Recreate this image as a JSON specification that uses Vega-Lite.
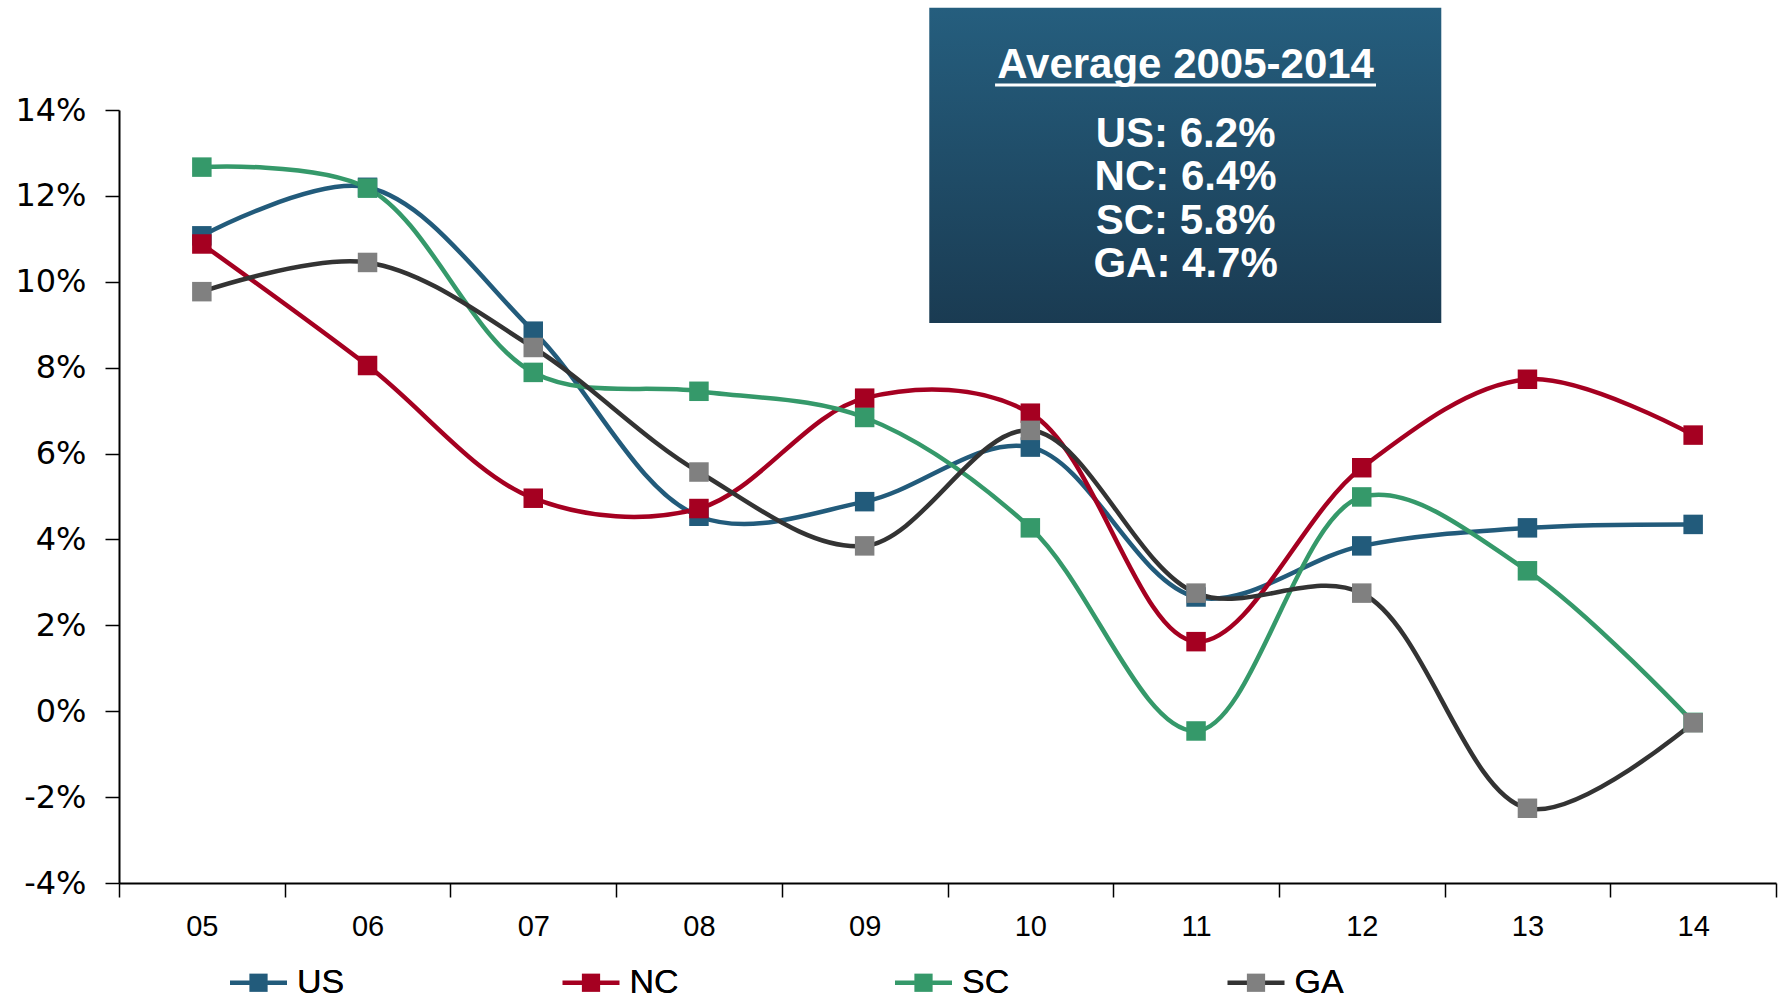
{
  "$schema": "https://vega.github.io/schema/vega-lite/v6.json",
  "width": 1657,
  "height": 773,
  "autosize": {"type": "none"},
  "padding": {"left": 119, "top": 110, "right": 7, "bottom": 116},
  "background": "white",
  "config": {"view": {"stroke": null}, "font": "Liberation Sans"},
  "data": {
    "values": [
      {"year": "05", "series": "US", "value": 11.07},
      {"year": "06", "series": "US", "value": 12.2},
      {"year": "07", "series": "US", "value": 8.85},
      {"year": "08", "series": "US", "value": 4.54},
      {"year": "09", "series": "US", "value": 4.88},
      {"year": "10", "series": "US", "value": 6.15},
      {"year": "11", "series": "US", "value": 2.66},
      {"year": "12", "series": "US", "value": 3.85},
      {"year": "13", "series": "US", "value": 4.27},
      {"year": "14", "series": "US", "value": 4.35},
      {"year": "05", "series": "NC", "value": 10.88},
      {"year": "06", "series": "NC", "value": 8.05},
      {"year": "07", "series": "NC", "value": 4.96},
      {"year": "08", "series": "NC", "value": 4.72},
      {"year": "09", "series": "NC", "value": 7.29},
      {"year": "10", "series": "NC", "value": 6.94},
      {"year": "11", "series": "NC", "value": 1.62},
      {"year": "12", "series": "NC", "value": 5.67},
      {"year": "13", "series": "NC", "value": 7.73},
      {"year": "14", "series": "NC", "value": 6.43},
      {"year": "05", "series": "SC", "value": 12.67},
      {"year": "06", "series": "SC", "value": 12.18},
      {"year": "07", "series": "SC", "value": 7.89},
      {"year": "08", "series": "SC", "value": 7.45},
      {"year": "09", "series": "SC", "value": 6.84},
      {"year": "10", "series": "SC", "value": 4.27},
      {"year": "11", "series": "SC", "value": -0.46},
      {"year": "12", "series": "SC", "value": 4.99},
      {"year": "13", "series": "SC", "value": 3.27},
      {"year": "14", "series": "SC", "value": -0.26},
      {"year": "05", "series": "GA", "value": 9.77},
      {"year": "06", "series": "GA", "value": 10.45},
      {"year": "07", "series": "GA", "value": 8.47},
      {"year": "08", "series": "GA", "value": 5.57},
      {"year": "09", "series": "GA", "value": 3.85},
      {"year": "10", "series": "GA", "value": 6.54},
      {"year": "11", "series": "GA", "value": 2.75},
      {"year": "12", "series": "GA", "value": 2.75},
      {"year": "13", "series": "GA", "value": -2.26},
      {"year": "14", "series": "GA", "value": -0.27}
    ]
  },
  "resolve": {"scale": {"x": "independent"}},
  "layer": [
    {
      "layer": [
        {
          "mark": {"type": "line", "interpolate": "catmull-rom", "strokeWidth": 4.5},
          "encoding": {
            "x": {
              "field": "year", "type": "ordinal",
              "scale": {"type": "band", "paddingInner": 0, "paddingOuter": 0},
              "bandPosition": 0.5,
              "axis": {
                "title": null, "tickBand": "extent", "labelAngle": 0, "grid": false,
                "domainColor": "black", "domainWidth": 2, "tickColor": "black", "tickWidth": 1.5,
                "tickSize": 14, "labelFontSize": 29, "labelPadding": 15, "labelColor": "black",
                "labelFont": "Liberation Sans"
              }
            },
            "y": {
              "field": "value", "type": "quantitative",
              "scale": {"domain": [-4, 14], "nice": false, "zero": false},
              "axis": {
                "title": null, "values": [-4, -2, 0, 2, 4, 6, 8, 10, 12, 14],
                "labelExpr": "datum.value + '%'", "grid": false,
                "domainColor": "black", "domainWidth": 2, "tickColor": "black", "tickWidth": 1.5,
                "tickSize": 14, "labelFontSize": 32, "labelFont": "DejaVu Sans", "labelPadding": 19,
                "labelColor": "black"
              }
            },
            "color": {
              "field": "series", "type": "nominal",
              "scale": {"domain": ["US", "NC", "SC", "GA"], "range": ["#225B7B", "#A50021", "#35996A", "#333333"]},
              "legend": {
                "orient": "none", "legendX": 111, "legendY": 844, "direction": "horizontal", "columns": 4,
                "title": null, "gridAlign": "all", "columnPadding": 215.5,
                "symbolType": "M-1,-0.08H-0.3V0.08H-1Z M0.3,-0.08H1V0.08H0.3Z",
                "symbolSize": 3249, "symbolStrokeWidth": 0, "symbolOpacity": 1,
                "labelFontSize": 34, "labelOffset": 10, "labelColor": "black", "labelFont": "Liberation Sans",
                "encode": {"symbols": {"update": {"fill": {"scale": "color", "field": "value"}, "fillOpacity": {"value": 1}}}}
              }
            }
          }
        },
        {
          "mark": {"type": "point", "shape": "square", "size": 380, "filled": true, "opacity": 1, "strokeWidth": 0},
          "encoding": {
            "x": {"field": "year", "type": "ordinal", "bandPosition": 0.5},
            "y": {"field": "value", "type": "quantitative"},
            "fill": {
              "field": "series", "type": "nominal",
              "sort": ["US", "NC", "SC", "GA"],
              "scale": {"range": ["#225B7B", "#A50021", "#35996A", "#808080"]},
              "legend": {
                "orient": "none", "legendX": 111, "legendY": 844, "direction": "horizontal", "columns": 4,
                "title": null, "gridAlign": "all", "columnPadding": 215.5,
                "symbolType": "M-0.32,-0.32H0.32V0.32H-0.32Z",
                "symbolSize": 3249, "symbolStrokeWidth": 0, "symbolOpacity": 1,
                "labelFontSize": 34, "labelOffset": 10, "labelColor": "black", "labelFont": "Liberation Sans"
              }
            }
          }
        }
      ]
    },
    {
      "data": {"values": [{}]},
      "layer": [
        {
          "mark": {
            "type": "rect",
            "fill": {
              "gradient": "linear", "x1": 0, "y1": 0, "x2": 0, "y2": 1,
              "stops": [{"offset": 0, "color": "#255E7E"}, {"offset": 1, "color": "#1A3B52"}]
            }
          },
          "encoding": {
            "x": {"datum": 2009.39, "type": "quantitative", "scale": {"domain": [2004.5, 2014.5], "nice": false, "zero": false}, "axis": null},
            "x2": {"datum": 2012.48},
            "y": {"datum": 16.38, "type": "quantitative"},
            "y2": {"datum": 9.04}
          }
        },
        {
          "mark": {"type": "rule", "color": "white", "strokeWidth": 3},
          "encoding": {
            "x": {"datum": 2009.787, "type": "quantitative", "axis": null},
            "x2": {"datum": 2012.086},
            "y": {"datum": 14.58, "type": "quantitative"}
          }
        },
        {
          "mark": {"type": "text", "text": "Average 2005-2014", "font": "Liberation Sans", "fontSize": 42, "fontWeight": "bold", "color": "white", "align": "center", "baseline": "alphabetic"},
          "encoding": {
            "x": {"datum": 2010.937, "type": "quantitative", "axis": null},
            "y": {"datum": 14.75, "type": "quantitative"}
          }
        },
        {
          "mark": {"type": "text", "text": ["US: 6.2%", "NC: 6.4%", "SC: 5.8%", "GA: 4.7%"], "lineHeight": 43.5, "font": "Liberation Sans", "fontSize": 42, "fontWeight": "bold", "color": "white", "align": "center", "baseline": "alphabetic"},
          "encoding": {
            "x": {"datum": 2010.937, "type": "quantitative", "axis": null},
            "y": {"datum": 13.15, "type": "quantitative"}
          }
        }
      ]
    }
  ]
}
